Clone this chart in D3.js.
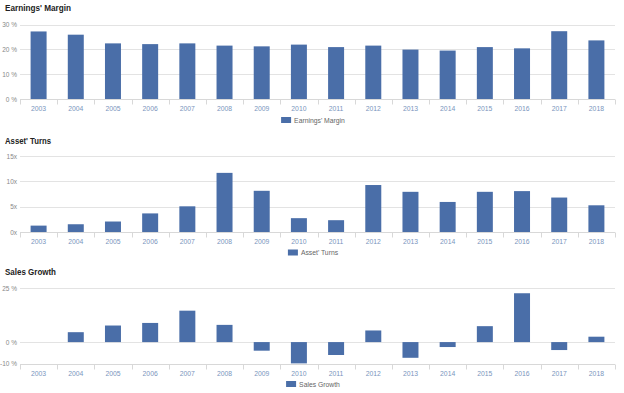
<!DOCTYPE html>
<html><head><meta charset="utf-8">
<script src="https://cdn.jsdelivr.net/npm/d3@7"></script>
<style>
body{margin:0;background:#fff;}
svg{display:block;font-family:"Liberation Sans",Arial,sans-serif;}
</style></head><body>
<svg id="c" width="624" height="393"></svg>
<script>
const years = ["2003","2004","2005","2006","2007","2008","2009","2010","2011","2012","2013","2014","2015","2016","2017","2018"];
const earningsMargin = [27.2,25.9,22.4,22.1,22.4,21.5,21.2,21.9,20.9,21.5,19.9,19.5,20.9,20.4,27.3,23.6];
const assetTurns = [1.26,1.53,2.07,3.67,5.07,11.67,8.13,2.73,2.33,9.27,7.93,5.93,7.93,8.07,6.8,5.27];
const salesGrowth = [null,4.6,7.7,8.9,14.6,8.0,-4.0,-9.9,-6.0,5.4,-7.3,-2.3,7.4,22.7,-3.7,2.5];
const emTicks = [0,10,20,30];
const atTicks = [0,5,10,15];
const sgTicks = [-10,0,25];

const svg = d3.select("#c");
const barColor = "#4a6ea8";
const x = d3.scaleBand().domain(years).range([20,615]).paddingInner(0.57).paddingOuter(0.285);

function panel(o){
  const g = svg.append("g");
  const y = d3.scaleLinear().domain(o.domain).range([o.y1,o.y0]);
  g.append("text").attr("x",5).attr("y",o.titleY).attr("font-size",9.5).attr("font-weight","bold")
    .attr("fill","#222").attr("textLength",o.titleW).attr("lengthAdjust","spacingAndGlyphs").text(o.title);
  // grid
  o.ticks.forEach(t=>{
    g.append("line").attr("x1",20).attr("x2",615).attr("y1",Math.round(y(t))+0.5).attr("y2",Math.round(y(t))+0.5)
      .attr("stroke","#e3e3e3").attr("stroke-width",1);
    g.append("text").attr("x",17).attr("y",y(t)+2.5).attr("text-anchor","end").attr("font-size",6.5)
      .attr("fill","#888").text(o.fmt(t));
  });
  // bars
  g.selectAll("rect").data(o.values.map((v,i)=>({v,yr:years[i]})).filter(d=>d.v!=null)).enter().append("rect")
    .attr("x",d=>x(d.yr)).attr("width",x.bandwidth())
    .attr("y",d=>y(Math.max(0,d.v))).attr("height",d=>Math.abs(y(d.v)-y(0)))
    .attr("fill",barColor);
  // x axis
  const base = Math.round(y(o.domain[0]))+0.5;
  g.append("line").attr("x1",20).attr("x2",615).attr("y1",base).attr("y2",base).attr("stroke","#d8d8d8");
  const step = x.step();
  for(let i=0;i<=years.length;i++){
    const xx = Math.round(20+i*step)+0.5;
    g.append("line").attr("x1",xx).attr("x2",xx).attr("y1",base).attr("y2",base+5).attr("stroke","#d8d8d8");
  }
  years.forEach(yr=>{
    g.append("text").attr("x",x(yr)+x.bandwidth()/2).attr("y",base+11).attr("text-anchor","middle")
      .attr("font-size",6.8).attr("fill","#7a95bd").text(yr);
  });
  // legend
  const lg = g.append("g");
  const t = lg.append("text").attr("x",13).attr("y",o.legendY+2.5).attr("font-size",6.8).attr("fill","#666").text(o.title);
  const w = 13 + t.node().getComputedTextLength();
  lg.append("rect").attr("x",0).attr("y",o.legendY-3).attr("width",10).attr("height",6).attr("fill",barColor);
  lg.attr("transform",`translate(${313 - w/2},0)`);
}

panel({title:"Earnings' Margin",titleW:66,values:earningsMargin,domain:[0,30],ticks:emTicks,y0:24.5,y1:99,
  titleY:11,legendY:120,fmt:d=>d+" %"});
panel({title:"Asset' Turns",titleW:46,values:assetTurns,domain:[0,15],ticks:atTicks,y0:156,y1:232,
  titleY:144,legendY:252.5,fmt:d=>d+"x"});
panel({title:"Sales Growth",titleW:51,values:salesGrowth,domain:[-10,25],ticks:sgTicks,y0:288.3,y1:363.6,
  titleY:275,legendY:384,fmt:d=>d+" %"});
</script>
</body></html>
